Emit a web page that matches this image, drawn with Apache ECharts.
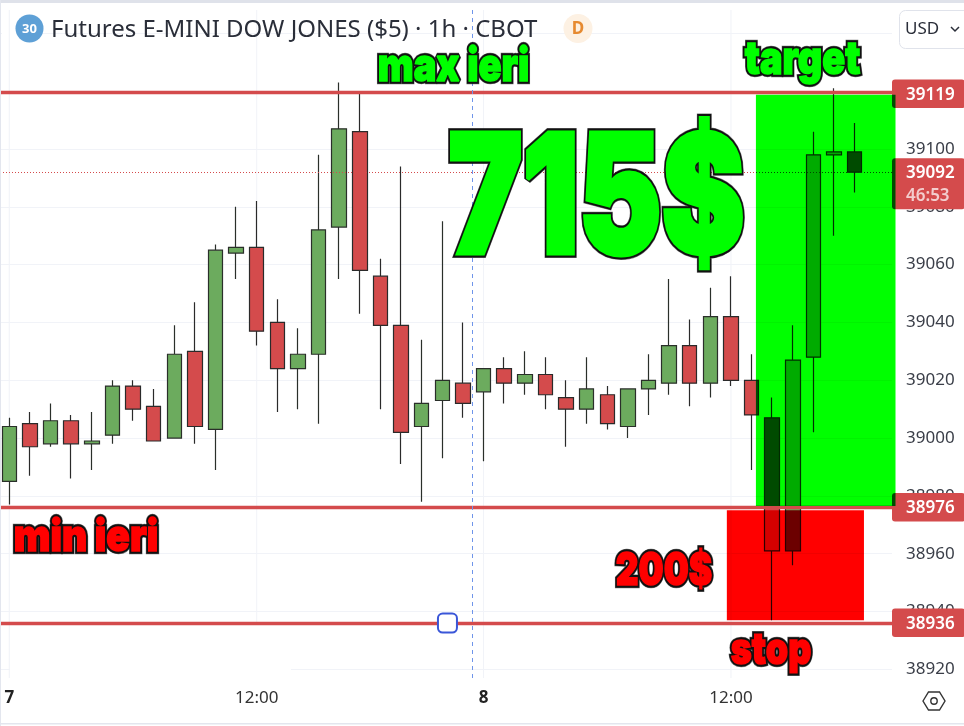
<!DOCTYPE html>
<html><head><meta charset="utf-8">
<style>html,body{margin:0;padding:0;background:#fff}#c{width:964px;height:726px}</style>
<script src="https://cdn.jsdelivr.net/npm/echarts@6/dist/echarts.min.js"></script>
</head><body><div id="c"></div>
<script>
const opens  = [38985,39005,38998,39006,38998,39001,39018,39011,39000,39030,39003,39064,39066,39040,39024,39029,39073,39106,39056,39039,39004,39013,39019,39016,39024,39019,39022,39014,39010,39015,39004,39017,39019,39032,39019,39042,39020,39007,38961,39028,39098,39099];
const closes = [39004,38997,39006,38998,38999,39018,39010,38999,39029,39004,39065,39066,39037,39024,39029,39072,39107,39058,39039,39002,39012,39020,39012,39024,39019,39022,39015,39010,39017,39005,39017,39020,39032,39019,39042,39020,39008,38961,39027,39098,39099,39092];
const lows   = [38977,38987,38997,38986,38989,38998,39006,38999,39000,38998,38989,39055,39032,39009,39010,39005,39055,39043,39010,38991,38978,38993,39007,38992,39012,39015,39010,38997,39005,39003,39000,39008,39015,39011,39014,39018,38989,38937,38956,39002,39070,39085];
const highs  = [39007,39009,39012,39008,39009,39020,39020,39017,39039,39047,39067,39080,39082,39048,39038,39098,39123,39119,39062,39094,39034,39075,39040,39024,39028,39030,39028,39020,39028,39018,39017,39029,39055,39041,39052,39056,39029,39014,39039,39106,39121,39109];
const priceTicks = [38920,38940,38960,38980,39000,39020,39040,39060,39080,39100,39120,39140];
const timeTickIndex = [0,12,23,35];
const timeTickLabels = ['7','12:00','8','12:00'];
const resistanceLevels = [39119,38976,38936];
const resistanceLines = [39119.5,38976,38936];
const lastPrice = 39092;
const countdown = '46:53';
const targetZone = [36.21,42.98,38976.5,39118.8];
const stopZone = [34.8,41.45,38937,38975];
const sessionBreak = 22.47;
const lineHandle = [21.25,38936];

const UI='"Noto Sans","Open Sans",sans-serif', IMPACT='Inter,"Liberation Sans",Arial,sans-serif';
const RED='#d44b4c', GREEN='#6cab5e';
const meas=document.createElement('canvas').getContext('2d');

function heavy(text,x0,x1,cy,size,fill,thick,outline){
  const font='900 '+size+'px '+IMPACT;
  meas.font=font;
  const pad=thick/2+outline;
  const sx=(x1-x0-2*pad)/meas.measureText(text).width;
  const base={text,font,textAlign:'left',textVerticalAlign:'middle'};
  const at={x:x0+pad,y:cy,scaleX:sx,scaleY:1,silent:true,z:20};
  return [
    Object.assign({type:'text',style:Object.assign({},base,{fill:'rgba(0,0,0,.55)',stroke:'rgba(0,0,0,.55)',lineWidth:thick+outline*2+1,shadowBlur:5,shadowColor:'rgba(0,0,0,.7)',shadowOffsetX:1,shadowOffsetY:2,lineJoin:'miter'})},at),
    Object.assign({type:'text',style:Object.assign({},base,{fill:'#111',stroke:'#111',lineWidth:thick+outline*2,lineJoin:'miter'})},at),
    Object.assign({type:'text',style:Object.assign({},base,{fill:fill,stroke:fill,lineWidth:thick,lineJoin:'miter'})},at)
  ];
}

const candleData=opens.map((o,i)=>[i,o,closes[i],lows[i],highs[i]]);
const tagData=resistanceLevels.map(v=>[v,String(v),'']).concat([[lastPrice,String(lastPrice),countdown]]);

const option={
  animation:false,
  backgroundColor:'#fff',
  grid:{left:0,right:72,top:10,bottom:48,containLabel:false},
  xAxis:{type:'value',min:-0.451,max:42.81,
    axisLine:{show:false},
    axisTick:{show:false,customValues:timeTickIndex},
    splitLine:{show:false},
    axisLabel:{customValues:timeTickIndex,margin:12,fontFamily:UI,fontSize:17,color:'#333',showMinLabel:true,showMaxLabel:true,
      formatter:v=>{const k=timeTickLabels[timeTickIndex.indexOf(v)];return k&&k.length===1?'{b|'+k+'}':k;},
      rich:{b:{fontFamily:UI,fontSize:17,fontWeight:'bold',color:'#222'}}}
  },
  yAxis:{type:'value',position:'right',min:38917,max:39148.1,
    axisLine:{show:false},
    axisTick:{show:false,customValues:priceTicks},
    splitLine:{show:true,lineStyle:{color:'#f1f3f8',width:1}},
    axisLabel:{customValues:priceTicks,margin:14,align:'left',fontFamily:UI,fontSize:17,color:'#3a3e48',formatter:v=>String(v)}
  },
  series:[
    {type:'custom',name:'vgrid',z:1,silent:true,clip:false,
      data:timeTickIndex.map(v=>[v]),encode:{x:0},
      renderItem(p,api){const x=api.coord([api.value(0),38917]);
        return {type:'line',shape:{x1:x[0],y1:p.coordSys.y,x2:x[0],y2:p.coordSys.y+p.coordSys.height},style:{stroke:'#f1f3f8',lineWidth:1}};}
    },
    {type:'candlestick',name:'Futures E-MINI DOW JONES',z:2,data:candleData,encode:{x:0,y:[1,2,3,4]},barWidth:15,
      itemStyle:{color:GREEN,color0:RED,borderColor:'#2a2f2a',borderColor0:'#2a2a2a',borderWidth:1.2},
      markLine:{silent:true,symbol:'none',animation:false,label:{show:false},
        data:resistanceLines.map(v=>({yAxis:v,lineStyle:{color:RED,width:3.4,type:'solid',opacity:1}}))
          .concat([{yAxis:lastPrice,lineStyle:{color:RED,width:1,type:[1,2]}},
                   {xAxis:sessionBreak,lineStyle:{color:'#6f95ea',width:1,type:[4,4]}}])},
      markPoint:{silent:true,animation:false,symbol:'roundRect',symbolSize:19,label:{show:false},
        itemStyle:{color:'#fff',borderColor:'#3a56d8',borderWidth:2},
        data:[{coord:lineHandle}]}
    },
    {type:'custom',name:'tags',z:3,silent:true,clip:false,
      data:tagData,encode:{y:0},
      renderItem(p,api){
        const d=tagData[p.dataIndex], y=api.coord([0,d[0]])[1], x=p.coordSys.x+p.coordSys.width, two=!!d[2];
        const top=two?y-14:y-14.5, h=two?51:28.5;
        const kids=[{type:'rect',shape:{x:x,y:top,width:73,height:h,r:3},style:{fill:RED}},
          {type:'text',style:{text:d[1],x:x+14,y:y+1,fill:'#fff',font:'600 17px '+UI,textVerticalAlign:'middle'}}];
        if(two) kids.push({type:'text',style:{text:d[2],x:x+14,y:y+24,fill:'rgba(255,255,255,.72)',font:'600 17px '+UI,textVerticalAlign:'middle'}});
        return {type:'group',children:kids};
      }
    },
    {type:'custom',name:'zones',z:5,silent:true,clip:false,blendMode:'multiply',
      data:[targetZone,stopZone],encode:{x:[0,1],y:[2,3]},
      renderItem(p,api){
        const a=api.coord([api.value(0),api.value(3)]), b=api.coord([api.value(1),api.value(2)]);
        return {type:'rect',shape:{x:a[0],y:a[1],width:b[0]-a[0],height:b[1]-a[1]},
          style:{fill:p.dataIndex===0?'#00ff00':'#ff0000'}};
      }
    }
  ],
  graphic:{elements:[
    {type:'rect',shape:{x:2,y:3,width:18,height:79},style:{fill:'#fff'},z:1,silent:true},
    {type:'rect',shape:{x:10,y:624.4,width:281,height:54},style:{fill:'#fff'},z:4,silent:true},
    {type:'rect',shape:{x:0,y:0,width:964,height:3},style:{fill:'#dfe2ea'},z:30,silent:true},
    {type:'rect',shape:{x:0,y:0,width:1,height:726},style:{fill:'#e3e6ee'},z:30,silent:true},
    {type:'rect',shape:{x:0,y:723,width:964,height:1.5},style:{fill:'#e3e6ee'},z:30,silent:true},
    {type:'circle',shape:{cx:29.5,cy:28.5,r:14},style:{fill:'#5ea0d6'},z:20,silent:true},
    {type:'text',style:{text:'30',x:29.5,y:29,fill:'#fff',font:'bold 13px '+UI,textAlign:'center',textVerticalAlign:'middle'},z:21,silent:true},
    {type:'text',style:{text:'Futures E-MINI DOW JONES ($5) · 1h · CBOT',x:51,y:30,fill:'#2a2e39',font:'24px '+UI,textAlign:'left',textVerticalAlign:'middle'},z:20,silent:true},
    {type:'circle',shape:{cx:578,cy:28.5,r:14.5},style:{fill:'#fdf1e3'},z:20,silent:true},
    {type:'text',style:{text:'D',x:578,y:29,fill:'#e68a30',font:'bold 17px '+UI,textAlign:'center',textVerticalAlign:'middle'},z:21,silent:true},
    {type:'rect',shape:{x:899.5,y:10.5,width:80,height:38,r:6},style:{fill:'#fff',stroke:'#e0e3eb',lineWidth:1},z:20,silent:true},
    {type:'text',style:{text:'USD',x:905,y:29,fill:'#2a2e39',font:'17px '+UI,textVerticalAlign:'middle'},z:21,silent:true},
    {type:'polyline',shape:{points:[[951,27],[955,31],[959,27]]},style:{stroke:'#2a2e39',fill:'none',lineWidth:1.5},z:21,silent:true},
    {type:'polygon',shape:{points:[[923,701],[928.5,692],[939.5,692],[945,701],[939.5,710],[928.5,710]]},style:{fill:'#fff',stroke:'#333',lineWidth:1.4},z:20,silent:true},
    {type:'circle',shape:{cx:934,cy:701,r:3.2},style:{fill:'#fff',stroke:'#333',lineWidth:1.4},z:21,silent:true}
  ].concat(
    heavy('715$',444,749,203,165,'#00ff00',5,2),
    heavy('max ieri',375,532,67,46,'#00ff00',1.5,2),
    heavy('target',742,863,60,46,'#00ff00',1.5,2),
    heavy('min ieri',11,161,538,44,'#ff0000',1.5,2),
    heavy('200$',613,715,571,46,'#ff0000',1.5,2),
    heavy('stop',728,814,651,44,'#ff0000',1.5,2)
  )}
};
const chart=echarts.init(document.getElementById('c'),null,{renderer:'canvas',width:964,height:726});
chart.setOption(option);
</script></body></html>
